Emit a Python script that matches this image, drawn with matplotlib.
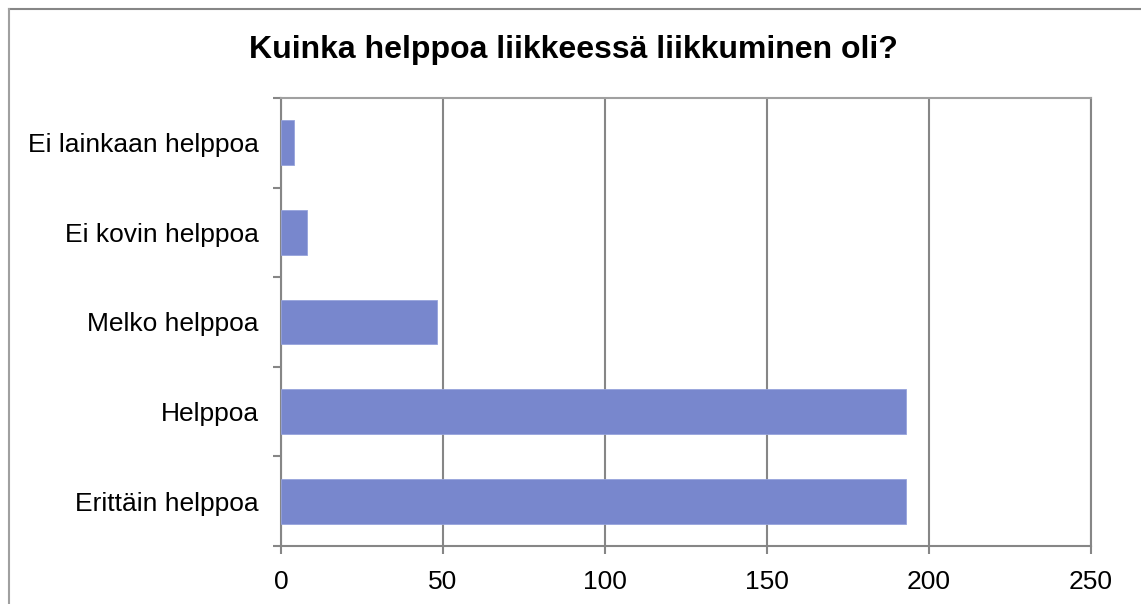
import matplotlib
matplotlib.use("Agg")
import matplotlib.pyplot as plt
from matplotlib.lines import Line2D
import numpy as np

categories = ["Erittäin helppoa", "Helppoa", "Melko helppoa", "Ei kovin helppoa", "Ei lainkaan helppoa"]
values = [193, 193, 48, 8, 4]
xticks = [0, 50, 100, 150, 200, 250]
title = "Kuinka helppoa liikkeessä liikkuminen oli?"

plt.rcParams['font.family'] = ['Liberation Sans', 'DejaVu Sans']

W, H = 1141, 604
fig = plt.figure(figsize=(W / 100, H / 100), dpi=100)
ax = fig.add_axes([281 / W, 1 - 546 / H, (1091 - 281) / W, (546 - 98) / H])

gray = "#868686"
y = np.arange(len(categories))
ax.barh(y, values, height=0.5, color="#7887CD", edgecolor="#97A3DC", linewidth=0.6, zorder=3)

ax.set_xlim(0, 250)
ax.set_ylim(-0.5, len(categories) - 0.5)
ax.set_xticks(xticks)
ax.set_xticklabels([str(v) for v in xticks])
ax.set_yticks(y)
ax.set_yticklabels(categories)
ax.set_yticks(np.arange(-0.5, len(categories), 1.0), minor=True)

ax.tick_params(axis='y', which='major', length=0, pad=16, labelsize=19)
ax.tick_params(axis='y', which='minor', length=6, width=1.5, color=gray, direction='out')
ax.tick_params(axis='x', which='major', length=6, width=1.5, color=gray, pad=11, labelsize=19)

ax.grid(axis='x', color=gray, linewidth=1.5, zorder=0)
ax.set_axisbelow(True)
for s in ['left', 'bottom', 'right']:
    ax.spines[s].set_color(gray)
    ax.spines[s].set_linewidth(1.5)
ax.spines['top'].set_color("#a0a0a0")
ax.spines['top'].set_linewidth(1.5)

fig.text(573.5 / W, 1 - 50 / H, title, ha='center', va='center', fontsize=23, fontweight='bold')

# outer chart border (top and left visible)
fig.add_artist(Line2D([8.5 / W, 1.0], [1 - 8.5 / H, 1 - 8.5 / H], color=gray, linewidth=1.5, transform=fig.transFigure))
fig.add_artist(Line2D([8.5 / W, 8.5 / W], [0, 1 - 8.5 / H], color="#a0a0a0", linewidth=1.5, transform=fig.transFigure))

fig.savefig("out.png", dpi=100)
